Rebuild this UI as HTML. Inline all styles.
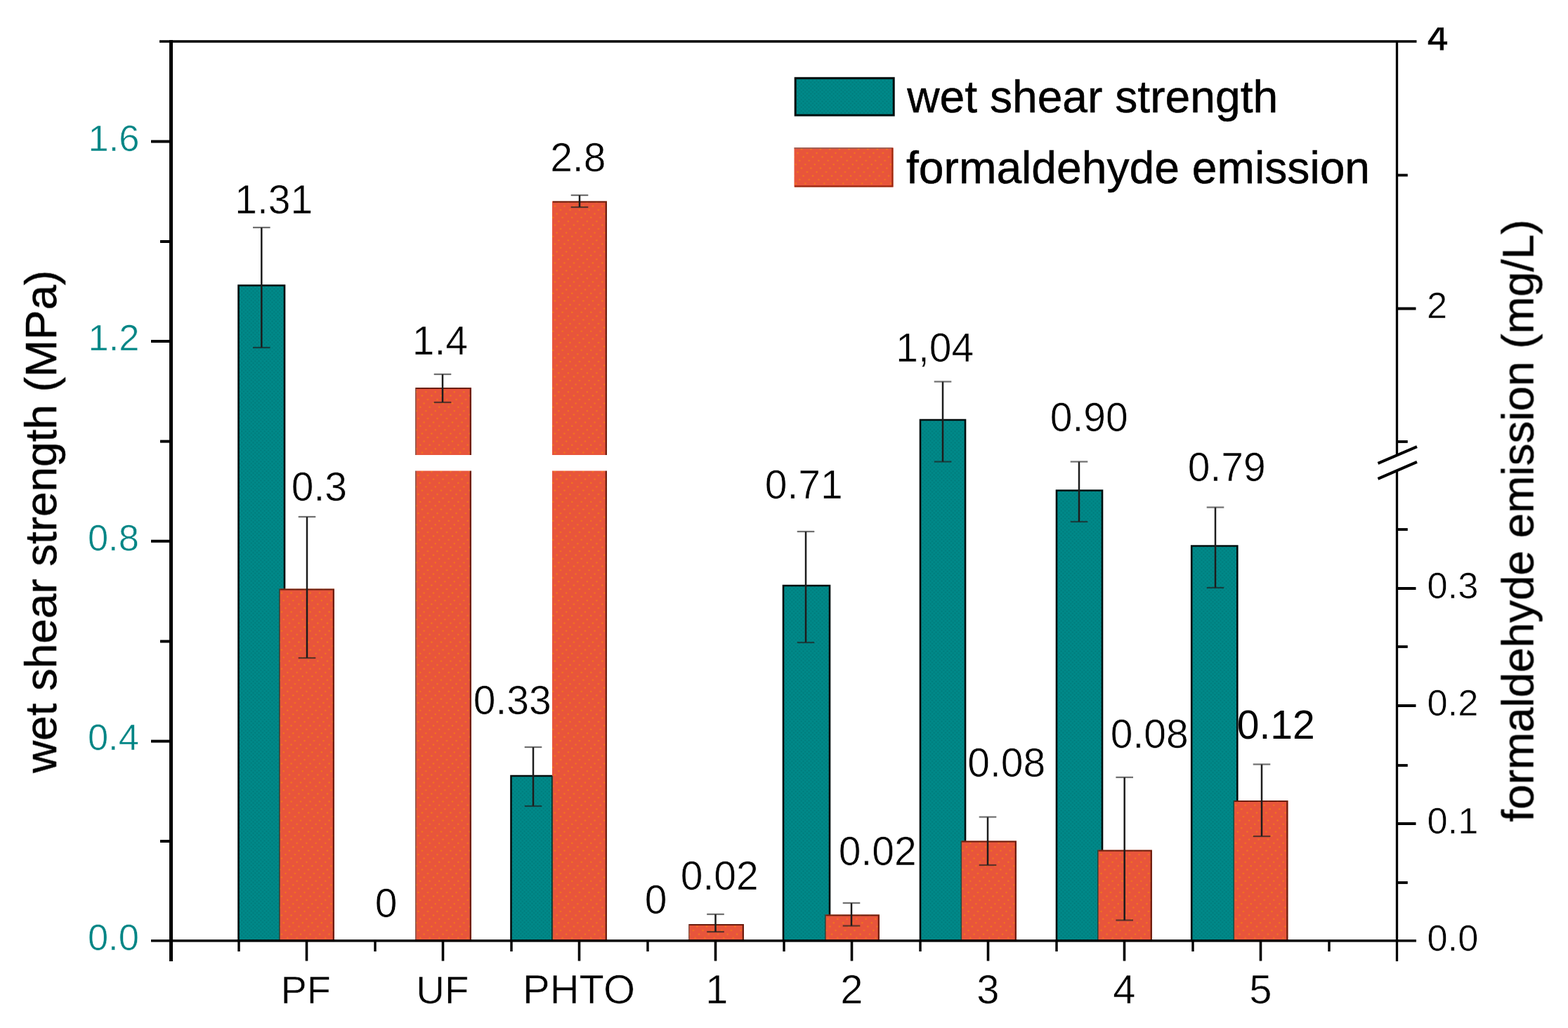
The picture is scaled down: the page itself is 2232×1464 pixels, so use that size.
<!DOCTYPE html>
<html lang="en"><head><meta charset="utf-8"><title>wet shear strength and formaldehyde emission</title>
<style>
html,body{margin:0;padding:0;background:#fff}
body{width:2232px;height:1464px;overflow:hidden}
svg{display:block;font-family:"Liberation Sans",sans-serif}
</style></head><body>
<svg width="2232" height="1464" viewBox="0 0 2232 1464">
<rect width="2232" height="1464" fill="#fff"/>
<defs><pattern id="pt" width="5.4" height="5.4" patternUnits="userSpaceOnUse"><rect width="5.4" height="5.4" fill="#008989"/><circle cx="1.35" cy="1.35" r="1.1" fill="#007b7b"/><circle cx="4.05" cy="4.05" r="1.1" fill="#007b7b"/></pattern><pattern id="po" width="13.5" height="27" patternUnits="userSpaceOnUse"><rect width="13.5" height="27" fill="#E8553B"/><circle cx="1.50" cy="2.00" r="1.25" fill="#F2741E"/><circle cx="9.60" cy="7.40" r="1.25" fill="#F2741E"/><circle cx="4.20" cy="12.80" r="1.25" fill="#F2741E"/><circle cx="12.30" cy="18.20" r="1.25" fill="#F2741E"/><circle cx="6.90" cy="23.60" r="1.25" fill="#F2741E"/></pattern><filter id="soft" x="0" y="0" width="2232" height="1464" filterUnits="userSpaceOnUse"><feGaussianBlur stdDeviation="0.6"/></filter><clipPath id="c4"><rect x="2020" y="39.2" width="60" height="40"/></clipPath></defs><g filter="url(#soft)">
<rect x="339.5" y="406.5" width="65.5" height="933.3" fill="url(#pt)"/>
<path d="M339.5,1339.8 V406.5 H405 V1339.8" fill="none" stroke="#061010" stroke-width="2.6"/>
<rect x="727.5" y="1105" width="59.0" height="234.79999999999995" fill="url(#pt)"/>
<path d="M727.5,1339.8 V1105 H786.5 V1339.8" fill="none" stroke="#061010" stroke-width="2.6"/>
<rect x="1115" y="834" width="66" height="505.79999999999995" fill="url(#pt)"/>
<path d="M1115,1339.8 V834 H1181 V1339.8" fill="none" stroke="#061010" stroke-width="2.6"/>
<rect x="1310" y="598" width="64" height="741.8" fill="url(#pt)"/>
<path d="M1310,1339.8 V598 H1374 V1339.8" fill="none" stroke="#061010" stroke-width="2.6"/>
<rect x="1504" y="698.5" width="65" height="641.3" fill="url(#pt)"/>
<path d="M1504,1339.8 V698.5 H1569 V1339.8" fill="none" stroke="#061010" stroke-width="2.6"/>
<rect x="1696.2" y="777.5" width="65.09999999999991" height="562.3" fill="url(#pt)"/>
<path d="M1696.2,1339.8 V777.5 H1761.3 V1339.8" fill="none" stroke="#061010" stroke-width="2.6"/>
<rect x="397.5" y="838.5" width="78.5" height="501.29999999999995" fill="url(#po)"/>
<path d="M398.5,839.5 H474.8 V1339.8" fill="none" stroke="#4a1206" stroke-width="2.2" stroke-opacity="0.8"/>
<rect x="591" y="552" width="80" height="787.8" fill="url(#po)"/>
<path d="M592,553 H669.8 V1339.8" fill="none" stroke="#4a1206" stroke-width="2.2" stroke-opacity="0.8"/>
<rect x="786" y="286.5" width="78" height="1053.3" fill="url(#po)"/>
<path d="M787,287.5 H862.8 V1339.8" fill="none" stroke="#4a1206" stroke-width="2.2" stroke-opacity="0.8"/>
<rect x="980" y="1316" width="79" height="23.799999999999955" fill="url(#po)"/>
<path d="M981,1317 H1057.8 V1339.8" fill="none" stroke="#4a1206" stroke-width="2.2" stroke-opacity="0.8"/>
<rect x="1174.5" y="1302.5" width="77.5" height="37.299999999999955" fill="url(#po)"/>
<path d="M1175.5,1303.5 H1250.8 V1339.8" fill="none" stroke="#4a1206" stroke-width="2.2" stroke-opacity="0.8"/>
<rect x="1368" y="1197.5" width="79" height="142.29999999999995" fill="url(#po)"/>
<path d="M1369,1198.5 H1445.8 V1339.8" fill="none" stroke="#4a1206" stroke-width="2.2" stroke-opacity="0.8"/>
<rect x="1562.5" y="1210.5" width="77.5" height="129.29999999999995" fill="url(#po)"/>
<path d="M1563.5,1211.5 H1638.8 V1339.8" fill="none" stroke="#4a1206" stroke-width="2.2" stroke-opacity="0.8"/>
<rect x="1756" y="1140" width="77.5" height="199.79999999999995" fill="url(#po)"/>
<path d="M1757,1141 H1832.3 V1339.8" fill="none" stroke="#4a1206" stroke-width="2.2" stroke-opacity="0.8"/>
<line x1="397.8" y1="838.5" x2="397.8" y2="1339.8" stroke="#0a4038" stroke-width="1.6" stroke-opacity="0.8"/>
<line x1="786.3" y1="1105" x2="786.3" y2="1339.8" stroke="#0a4038" stroke-width="1.6" stroke-opacity="0.8"/>
<line x1="1174.8" y1="1302.5" x2="1174.8" y2="1339.8" stroke="#0a4038" stroke-width="1.6" stroke-opacity="0.8"/>
<line x1="1368.3" y1="1197.5" x2="1368.3" y2="1339.8" stroke="#0a4038" stroke-width="1.6" stroke-opacity="0.8"/>
<line x1="1562.8" y1="1210.5" x2="1562.8" y2="1339.8" stroke="#0a4038" stroke-width="1.6" stroke-opacity="0.8"/>
<line x1="1756.3" y1="1140" x2="1756.3" y2="1339.8" stroke="#0a4038" stroke-width="1.6" stroke-opacity="0.8"/>
<line x1="591.8" y1="552" x2="591.8" y2="1339.8" stroke="#555" stroke-width="1.6" stroke-opacity="0.6"/>
<line x1="980.8" y1="1316" x2="980.8" y2="1339.8" stroke="#555" stroke-width="1.6" stroke-opacity="0.6"/>
<rect x="580" y="648" width="300" height="22.5" fill="#fff"/>
<line x1="372.3" y1="324" x2="372.3" y2="495" stroke="#1c1c1c" stroke-width="2.5" stroke-linecap="butt"/>
<line x1="360.0" y1="324" x2="384.6" y2="324" stroke="#333" stroke-width="2.2" stroke-linecap="butt" stroke-opacity="0.7"/>
<line x1="360.0" y1="495" x2="384.6" y2="495" stroke="#222" stroke-width="2.2" stroke-linecap="butt" stroke-opacity="0.7"/>
<line x1="437" y1="736" x2="437" y2="937" stroke="#1c1c1c" stroke-width="2.5" stroke-linecap="butt"/>
<line x1="424.7" y1="736" x2="449.3" y2="736" stroke="#333" stroke-width="2.2" stroke-linecap="butt" stroke-opacity="0.7"/>
<line x1="424.7" y1="937" x2="449.3" y2="937" stroke="#222" stroke-width="2.2" stroke-linecap="butt" stroke-opacity="0.7"/>
<line x1="630" y1="533" x2="630" y2="573" stroke="#1c1c1c" stroke-width="2.5" stroke-linecap="butt"/>
<line x1="617.7" y1="533" x2="642.3" y2="533" stroke="#333" stroke-width="2.2" stroke-linecap="butt" stroke-opacity="0.7"/>
<line x1="617.7" y1="573" x2="642.3" y2="573" stroke="#222" stroke-width="2.2" stroke-linecap="butt" stroke-opacity="0.7"/>
<line x1="825" y1="278" x2="825" y2="295" stroke="#1c1c1c" stroke-width="2.5" stroke-linecap="butt"/>
<line x1="812.7" y1="278" x2="837.3" y2="278" stroke="#333" stroke-width="2.2" stroke-linecap="butt" stroke-opacity="0.7"/>
<line x1="812.7" y1="295" x2="837.3" y2="295" stroke="#222" stroke-width="2.2" stroke-linecap="butt" stroke-opacity="0.7"/>
<line x1="759" y1="1064" x2="759" y2="1148" stroke="#1c1c1c" stroke-width="2.5" stroke-linecap="butt"/>
<line x1="746.7" y1="1064" x2="771.3" y2="1064" stroke="#333" stroke-width="2.2" stroke-linecap="butt" stroke-opacity="0.7"/>
<line x1="746.7" y1="1148" x2="771.3" y2="1148" stroke="#222" stroke-width="2.2" stroke-linecap="butt" stroke-opacity="0.7"/>
<line x1="1018.5" y1="1302" x2="1018.5" y2="1327" stroke="#1c1c1c" stroke-width="2.5" stroke-linecap="butt"/>
<line x1="1006.2" y1="1302" x2="1030.8" y2="1302" stroke="#333" stroke-width="2.2" stroke-linecap="butt" stroke-opacity="0.7"/>
<line x1="1006.2" y1="1327" x2="1030.8" y2="1327" stroke="#222" stroke-width="2.2" stroke-linecap="butt" stroke-opacity="0.7"/>
<line x1="1147" y1="757" x2="1147" y2="915" stroke="#1c1c1c" stroke-width="2.5" stroke-linecap="butt"/>
<line x1="1134.7" y1="757" x2="1159.3" y2="757" stroke="#333" stroke-width="2.2" stroke-linecap="butt" stroke-opacity="0.7"/>
<line x1="1134.7" y1="915" x2="1159.3" y2="915" stroke="#222" stroke-width="2.2" stroke-linecap="butt" stroke-opacity="0.7"/>
<line x1="1212" y1="1286" x2="1212" y2="1318.5" stroke="#1c1c1c" stroke-width="2.5" stroke-linecap="butt"/>
<line x1="1199.7" y1="1286" x2="1224.3" y2="1286" stroke="#333" stroke-width="2.2" stroke-linecap="butt" stroke-opacity="0.7"/>
<line x1="1199.7" y1="1318.5" x2="1224.3" y2="1318.5" stroke="#222" stroke-width="2.2" stroke-linecap="butt" stroke-opacity="0.7"/>
<line x1="1342" y1="543.5" x2="1342" y2="657.5" stroke="#1c1c1c" stroke-width="2.5" stroke-linecap="butt"/>
<line x1="1329.7" y1="543.5" x2="1354.3" y2="543.5" stroke="#333" stroke-width="2.2" stroke-linecap="butt" stroke-opacity="0.7"/>
<line x1="1329.7" y1="657.5" x2="1354.3" y2="657.5" stroke="#222" stroke-width="2.2" stroke-linecap="butt" stroke-opacity="0.7"/>
<line x1="1406" y1="1163.5" x2="1406" y2="1232" stroke="#1c1c1c" stroke-width="2.5" stroke-linecap="butt"/>
<line x1="1393.7" y1="1163.5" x2="1418.3" y2="1163.5" stroke="#333" stroke-width="2.2" stroke-linecap="butt" stroke-opacity="0.7"/>
<line x1="1393.7" y1="1232" x2="1418.3" y2="1232" stroke="#222" stroke-width="2.2" stroke-linecap="butt" stroke-opacity="0.7"/>
<line x1="1536" y1="657.5" x2="1536" y2="743" stroke="#1c1c1c" stroke-width="2.5" stroke-linecap="butt"/>
<line x1="1523.7" y1="657.5" x2="1548.3" y2="657.5" stroke="#333" stroke-width="2.2" stroke-linecap="butt" stroke-opacity="0.7"/>
<line x1="1523.7" y1="743" x2="1548.3" y2="743" stroke="#222" stroke-width="2.2" stroke-linecap="butt" stroke-opacity="0.7"/>
<line x1="1600.7" y1="1107" x2="1600.7" y2="1310.5" stroke="#1c1c1c" stroke-width="2.5" stroke-linecap="butt"/>
<line x1="1588.4" y1="1107" x2="1613.0" y2="1107" stroke="#333" stroke-width="2.2" stroke-linecap="butt" stroke-opacity="0.7"/>
<line x1="1588.4" y1="1310.5" x2="1613.0" y2="1310.5" stroke="#222" stroke-width="2.2" stroke-linecap="butt" stroke-opacity="0.7"/>
<line x1="1730" y1="722.5" x2="1730" y2="837" stroke="#1c1c1c" stroke-width="2.5" stroke-linecap="butt"/>
<line x1="1717.7" y1="722.5" x2="1742.3" y2="722.5" stroke="#333" stroke-width="2.2" stroke-linecap="butt" stroke-opacity="0.7"/>
<line x1="1717.7" y1="837" x2="1742.3" y2="837" stroke="#222" stroke-width="2.2" stroke-linecap="butt" stroke-opacity="0.7"/>
<line x1="1796" y1="1088.5" x2="1796" y2="1191" stroke="#1c1c1c" stroke-width="2.5" stroke-linecap="butt"/>
<line x1="1783.7" y1="1088.5" x2="1808.3" y2="1088.5" stroke="#333" stroke-width="2.2" stroke-linecap="butt" stroke-opacity="0.7"/>
<line x1="1783.7" y1="1191" x2="1808.3" y2="1191" stroke="#222" stroke-width="2.2" stroke-linecap="butt" stroke-opacity="0.7"/>
<line x1="243.5" y1="57" x2="243.5" y2="1369" stroke="#000" stroke-width="5" stroke-linecap="butt"/>
<line x1="215" y1="1339.8" x2="2016" y2="1339.8" stroke="#000" stroke-width="3.4" stroke-linecap="butt"/>
<line x1="227" y1="59" x2="2016.5" y2="59" stroke="#000" stroke-width="3.4" stroke-linecap="butt"/>
<line x1="1988.5" y1="59" x2="1988.5" y2="648.5" stroke="#000" stroke-width="3.3" stroke-linecap="butt"/>
<line x1="1988.5" y1="669.5" x2="1988.5" y2="1369" stroke="#000" stroke-width="3.3" stroke-linecap="butt"/>
<line x1="215" y1="201.5" x2="243.5" y2="201.5" stroke="#000" stroke-width="4" stroke-linecap="butt"/>
<line x1="215" y1="486" x2="243.5" y2="486" stroke="#000" stroke-width="4" stroke-linecap="butt"/>
<line x1="215" y1="770.7" x2="243.5" y2="770.7" stroke="#000" stroke-width="4" stroke-linecap="butt"/>
<line x1="215" y1="1055.6" x2="243.5" y2="1055.6" stroke="#000" stroke-width="4" stroke-linecap="butt"/>
<line x1="228" y1="344" x2="243.5" y2="344" stroke="#000" stroke-width="4" stroke-linecap="butt"/>
<line x1="228" y1="628.6" x2="243.5" y2="628.6" stroke="#000" stroke-width="4" stroke-linecap="butt"/>
<line x1="228" y1="913.4" x2="243.5" y2="913.4" stroke="#000" stroke-width="4" stroke-linecap="butt"/>
<line x1="228" y1="1198" x2="243.5" y2="1198" stroke="#000" stroke-width="4" stroke-linecap="butt"/>
<line x1="1988.5" y1="439.5" x2="2015.5" y2="439.5" stroke="#000" stroke-width="4" stroke-linecap="butt"/>
<line x1="1988.5" y1="838" x2="2015.5" y2="838" stroke="#000" stroke-width="4" stroke-linecap="butt"/>
<line x1="1988.5" y1="1005" x2="2015.5" y2="1005" stroke="#000" stroke-width="4" stroke-linecap="butt"/>
<line x1="1988.5" y1="1173" x2="2015.5" y2="1173" stroke="#000" stroke-width="4" stroke-linecap="butt"/>
<line x1="1988.5" y1="249.5" x2="2003.8" y2="249.5" stroke="#000" stroke-width="3.8" stroke-linecap="butt"/>
<line x1="1988.5" y1="629" x2="2003.8" y2="629" stroke="#000" stroke-width="3.8" stroke-linecap="butt"/>
<line x1="1988.5" y1="754" x2="2003.8" y2="754" stroke="#000" stroke-width="3.8" stroke-linecap="butt"/>
<line x1="1988.5" y1="921" x2="2003.8" y2="921" stroke="#000" stroke-width="3.8" stroke-linecap="butt"/>
<line x1="1988.5" y1="1090" x2="2003.8" y2="1090" stroke="#000" stroke-width="3.8" stroke-linecap="butt"/>
<line x1="1988.5" y1="1257" x2="2003.8" y2="1257" stroke="#000" stroke-width="3.8" stroke-linecap="butt"/>
<line x1="1961.5" y1="659.8" x2="2017" y2="636.2" stroke="#000" stroke-width="4" stroke-linecap="butt"/>
<line x1="1961.5" y1="681.8" x2="2017" y2="657.8" stroke="#000" stroke-width="4" stroke-linecap="butt"/>
<line x1="436.5" y1="1339.8" x2="436.5" y2="1368.5" stroke="#000" stroke-width="3.6" stroke-linecap="butt"/>
<line x1="630.5" y1="1339.8" x2="630.5" y2="1368.5" stroke="#000" stroke-width="3.6" stroke-linecap="butt"/>
<line x1="824.5" y1="1339.8" x2="824.5" y2="1368.5" stroke="#000" stroke-width="3.6" stroke-linecap="butt"/>
<line x1="1018.5" y1="1339.8" x2="1018.5" y2="1368.5" stroke="#000" stroke-width="3.6" stroke-linecap="butt"/>
<line x1="1212.5" y1="1339.8" x2="1212.5" y2="1368.5" stroke="#000" stroke-width="3.6" stroke-linecap="butt"/>
<line x1="1406.5" y1="1339.8" x2="1406.5" y2="1368.5" stroke="#000" stroke-width="3.6" stroke-linecap="butt"/>
<line x1="1600.5" y1="1339.8" x2="1600.5" y2="1368.5" stroke="#000" stroke-width="3.6" stroke-linecap="butt"/>
<line x1="1794.5" y1="1339.8" x2="1794.5" y2="1368.5" stroke="#000" stroke-width="3.6" stroke-linecap="butt"/>
<line x1="340" y1="1339.8" x2="340" y2="1355" stroke="#000" stroke-width="3.4" stroke-linecap="butt"/>
<line x1="534" y1="1339.8" x2="534" y2="1355" stroke="#000" stroke-width="3.4" stroke-linecap="butt"/>
<line x1="728" y1="1339.8" x2="728" y2="1355" stroke="#000" stroke-width="3.4" stroke-linecap="butt"/>
<line x1="922" y1="1339.8" x2="922" y2="1355" stroke="#000" stroke-width="3.4" stroke-linecap="butt"/>
<line x1="1116" y1="1339.8" x2="1116" y2="1355" stroke="#000" stroke-width="3.4" stroke-linecap="butt"/>
<line x1="1310" y1="1339.8" x2="1310" y2="1355" stroke="#000" stroke-width="3.4" stroke-linecap="butt"/>
<line x1="1504" y1="1339.8" x2="1504" y2="1355" stroke="#000" stroke-width="3.4" stroke-linecap="butt"/>
<line x1="1698" y1="1339.8" x2="1698" y2="1355" stroke="#000" stroke-width="3.4" stroke-linecap="butt"/>
<line x1="1892" y1="1339.8" x2="1892" y2="1355" stroke="#000" stroke-width="3.4" stroke-linecap="butt"/>
<text x="125.56" y="215.00" font-size="52.5" fill="#008585" stroke="#fff" stroke-width="0.7" stroke-opacity="0.9">1.6</text>
<text x="125.56" y="499.00" font-size="52.5" fill="#008585" stroke="#fff" stroke-width="0.7" stroke-opacity="0.9">1.2</text>
<text x="124.90" y="783.50" font-size="52.5" fill="#008585" stroke="#fff" stroke-width="0.7" stroke-opacity="0.9">0.8</text>
<text x="124.90" y="1068.00" font-size="52.5" fill="#008585" stroke="#fff" stroke-width="0.7" stroke-opacity="0.9">0.4</text>
<text x="124.90" y="1353.00" font-size="52.5" fill="#008585" stroke="#fff" stroke-width="0.7" stroke-opacity="0.9">0.0</text>
<text x="2030.88" y="453.00" font-size="52.5" fill="#000" stroke="#fff" stroke-width="0.7" stroke-opacity="0.9">2</text>
<text x="2031.40" y="851.50" font-size="52.5" fill="#000" stroke="#fff" stroke-width="0.7" stroke-opacity="0.9">0.3</text>
<text x="2031.40" y="1018.50" font-size="52.5" fill="#000" stroke="#fff" stroke-width="0.7" stroke-opacity="0.9">0.2</text>
<text x="2031.40" y="1186.50" font-size="52.5" fill="#000" stroke="#fff" stroke-width="0.7" stroke-opacity="0.9">0.1</text>
<text x="2031.40" y="1353.50" font-size="52.5" fill="#000" stroke="#fff" stroke-width="0.7" stroke-opacity="0.9">0.0</text>
<text x="2032.02" y="71.00" font-size="52.5" fill="#000" stroke="#000" stroke-width="0.9" clip-path="url(#c4)">4</text>
<text x="435.3" y="1429.2" font-size="56" text-anchor="middle" fill="#000" stroke="#fff" stroke-width="0.7" stroke-opacity="0.9">PF</text>
<text x="629.8" y="1429.2" font-size="56.3" text-anchor="middle" fill="#000" stroke="#fff" stroke-width="0.7" stroke-opacity="0.9">UF</text>
<text x="824.0" y="1429.2" font-size="58" text-anchor="middle" fill="#000" stroke="#fff" stroke-width="0.7" stroke-opacity="0.9">PHTO</text>
<text x="1020.5" y="1429.2" font-size="58" text-anchor="middle" fill="#000" stroke="#fff" stroke-width="0.7" stroke-opacity="0.9">1</text>
<text x="1212.5" y="1429.2" font-size="58" text-anchor="middle" fill="#000" stroke="#fff" stroke-width="0.7" stroke-opacity="0.9">2</text>
<text x="1406.5" y="1429.2" font-size="58" text-anchor="middle" fill="#000" stroke="#fff" stroke-width="0.7" stroke-opacity="0.9">3</text>
<text x="1600.5" y="1429.2" font-size="58" text-anchor="middle" fill="#000" stroke="#fff" stroke-width="0.7" stroke-opacity="0.9">4</text>
<text x="1794.5" y="1429.2" font-size="58" text-anchor="middle" fill="#000" stroke="#fff" stroke-width="0.7" stroke-opacity="0.9">5</text>
<text x="334.23" y="304.00" font-size="57" fill="#000" stroke="#fff" stroke-width="0.7" stroke-opacity="0.9">1.31</text>
<text x="783.15" y="244.00" font-size="57" fill="#000" stroke="#fff" stroke-width="0.7" stroke-opacity="0.9">2.8</text>
<text x="586.73" y="505.00" font-size="57" fill="#000" stroke="#fff" stroke-width="0.7" stroke-opacity="0.9">1.4</text>
<text x="414.72" y="712.50" font-size="57" fill="#000" stroke="#fff" stroke-width="0.7" stroke-opacity="0.9">0.3</text>
<text x="673.72" y="1017.00" font-size="57" fill="#000" stroke="#fff" stroke-width="0.7" stroke-opacity="0.9">0.33</text>
<text x="533.72" y="1306.00" font-size="57" fill="#000" stroke="#fff" stroke-width="0.7" stroke-opacity="0.9">0</text>
<text x="917.72" y="1301.00" font-size="57" fill="#000" stroke="#fff" stroke-width="0.7" stroke-opacity="0.9">0</text>
<text x="968.72" y="1267.00" font-size="57" fill="#000" stroke="#fff" stroke-width="0.7" stroke-opacity="0.9">0.02</text>
<text x="1088.72" y="710.00" font-size="57" fill="#000" stroke="#fff" stroke-width="0.7" stroke-opacity="0.9">0.71</text>
<text x="1275.22" y="515.00" font-size="57" fill="#000" stroke="#fff" stroke-width="0.7" stroke-opacity="0.9">1,04</text>
<text x="1494.72" y="614.00" font-size="57" fill="#000" stroke="#fff" stroke-width="0.7" stroke-opacity="0.9">0.90</text>
<text x="1690.72" y="685.00" font-size="57" fill="#000" stroke="#fff" stroke-width="0.7" stroke-opacity="0.9">0.79</text>
<text x="1193.72" y="1232.00" font-size="57" fill="#000" stroke="#fff" stroke-width="0.7" stroke-opacity="0.9">0.02</text>
<text x="1377.22" y="1106.00" font-size="57" fill="#000" stroke="#fff" stroke-width="0.7" stroke-opacity="0.9">0.08</text>
<text x="1580.72" y="1064.50" font-size="57" fill="#000" stroke="#fff" stroke-width="0.7" stroke-opacity="0.9">0.08</text>
<text x="1760.72" y="1052.00" font-size="57" fill="#000">0.12</text>
<rect x="1132.2" y="111.3" width="140" height="52.8" fill="url(#pt)" stroke="#061010" stroke-width="3"/>
<rect x="1130.5" y="210" width="141" height="56.3" fill="url(#po)"/>
<path d="M1130.5,211 H1270.5" fill="none" stroke="#666" stroke-width="1.6" stroke-opacity="0.7"/>
<path d="M1270.4,211 V265.3 H1131" fill="none" stroke="#8a1c08" stroke-width="2.2" stroke-opacity="0.8"/>
<text x="1291.16" y="160.00" font-size="64.2" fill="#000" stroke="#000" stroke-width="0.5">wet shear strength</text>
<text x="1290.04" y="261.00" font-size="64.2" fill="#000" stroke="#000" stroke-width="0.5">formaldehyde emission</text>
<text transform="translate(80,742.8) rotate(-90)" font-size="63.8" text-anchor="middle" fill="#000" stroke="#000" stroke-width="0.5">wet shear strength (MPa)</text>
<text transform="translate(2182.5,741.5) rotate(-90)" font-size="63.8" text-anchor="middle" fill="#000" stroke="#000" stroke-width="0.5">formaldehyde emission (mg/L)</text>
</g>
</svg>
</body></html>
